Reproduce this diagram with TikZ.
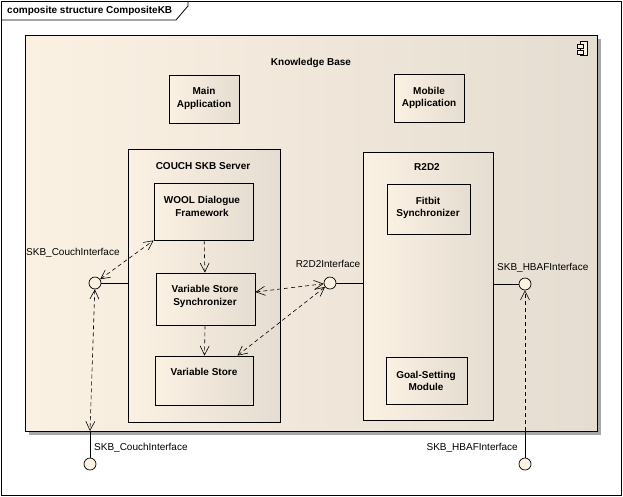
\documentclass[tikz,border=0pt]{standalone}
\usepackage{fontspec}
\setmainfont{Liberation Sans}
\usetikzlibrary{positioning,arrows.meta}

\definecolor{cream}{RGB}{251,241,227}
\definecolor{beige}{RGB}{229,221,209}
\definecolor{shadowgray}{RGB}{168,168,168}

\tikzset{
  part/.style={draw, line width=0.8pt, left color=cream, right color=beige},
  lbl/.style={font=\fontsize{10}{12.5}\selectfont\bfseries, align=center, inner sep=0pt},
  ifacetxt/.style={font=\fontsize{10}{12}\selectfont, inner sep=0pt},
  iface/.style={draw, circle, fill=cream, line width=0.7pt, minimum size=12pt, inner sep=0pt},
  dep/.style={dash pattern=on 4pt off 3pt, line width=0.6pt},
  >={Straight Barb[length=9pt,width=9pt]}
}

\begin{document}
\begin{tikzpicture}[x=1pt,y=-1pt]
    \useasboundingbox (0,0) rectangle (623,496);

    % Frame
    \draw[line width=0.8pt] (1,1) rectangle (621,495);
    \draw[line width=0.8pt] (1,20) -- (176,20) -- (188,6) -- (188,1);
    \node[lbl, anchor=west] (frametitle) at (7,11) {composite structure CompositeKB};

    % Knowledge Base
    \fill[shadowgray] (29,39) rectangle (601,435);
    \node[part, minimum width=572pt, minimum height=396pt] (kb) at (311,233) {};
    \node[lbl] (kbtxt) at (311,63) {Knowledge Base};
    \draw[fill=cream, line width=0.6pt] (580,41) rectangle (587,55);
    \draw[fill=cream, line width=0.6pt] (577,44) rectangle (583,48);
    \draw[fill=cream, line width=0.6pt] (577,50) rectangle (583,54);

    % Applications
    \node[part, minimum width=70pt, minimum height=48pt] (mainapp) at (204,99) {};
    \node[lbl] (mainapptxt) at (204,98.5) {Main\\Application};
    \node[part, minimum width=70pt, minimum height=48pt] (mobapp) at (429,98) {};
    \node[lbl] (mobapptxt) at (429,98) {Mobile\\Application};

    % COUCH SKB Server
    \node[part, minimum width=152pt, minimum height=273pt] (couch) at (204,285.5) {};
    \node[lbl] (couchtxt) at (203,166) {COUCH SKB Server};
    \node[part, minimum width=99pt, minimum height=57pt] (wool) at (203.5,211.5) {};
    \node[lbl] (wooltxt) at (202,206.5) {WOOL Dialogue\\Framework};
    \node[part, minimum width=99pt, minimum height=52pt] (vss) at (205.5,299) {};
    \node[lbl] (vsstxt) at (205,296.5) {Variable Store\\Synchronizer};
    \node[part, minimum width=98pt, minimum height=49pt] (vs) at (204,380.5) {};
    \node[lbl] (vstxt) at (204,372) {Variable Store};

    % R2D2
    \node[part, minimum width=130pt, minimum height=268pt] (r2d2) at (428,286) {};
    \node[lbl] (r2d2txt) at (427,167) {R2D2};
    \node[part, minimum width=83pt, minimum height=50pt] (fitbit) at (428.5,209) {};
    \node[lbl] (fitbittxt) at (428,208) {Fitbit\\Synchronizer};
    \node[part, minimum width=81pt, minimum height=47pt] (goal) at (426.5,380.5) {};
    \node[lbl] (goaltxt) at (426,381) {Goal-Setting\\Module};

    % Interfaces
    \node[iface] (couchif) at (95,283) {};
    \node[iface] (r2d2if) at (330,283) {};
    \node[iface] (hbafif) at (525,284) {};
    \node[iface] (couchout) at (90,464) {};
    \node[iface] (hbafout) at (525,464) {};
    \coordinate (couchport) at (90,431);
    \coordinate (hbafport) at (525,431);
    \node[ifacetxt, anchor=west] (couchiftxt) at (26,253) {SKB\_CouchInterface};
    \node[ifacetxt] (r2d2iftxt) at (328,264) {R2D2Interface};
    \node[ifacetxt, anchor=west] (hbafiftxt) at (497,268) {SKB\_HBAFInterface};
    \node[ifacetxt, anchor=west] (couchouttxt) at (94,448) {SKB\_CouchInterface};
    \node[ifacetxt, anchor=east] (hbafouttxt) at (518,448) {SKB\_HBAFInterface};

    % Assembly lines
    \draw[line width=0.7pt] (couchif) -- (couchif -| couch.west);
    \draw[line width=0.7pt] (r2d2if) -- (r2d2if -| r2d2.west);
    \draw[line width=0.7pt] (hbafif) -- (hbafif -| r2d2.east);
    \draw[line width=0.7pt] (couchout) -- (couchport);
    \draw[line width=0.7pt] (hbafout) -- (hbafport);

    % Dependencies
    \draw[dep, <->] (couchif) -- (wool.south west);
    \draw[dep, ->] (wool) -- (vss);
    \draw[dep, ->] (vss) -- (vs);
    \draw[dep, <->] ([yshift=7pt]vss.east) -- (r2d2if);
    \draw[dep, <->] ([xshift=-16pt]vs.north east) -- (r2d2if);
    \draw[dep, <->] (couchif) -- (couchport);
    \draw[dep, ->] (hbafport) -- (hbafif);
\end{tikzpicture}
\end{document}
